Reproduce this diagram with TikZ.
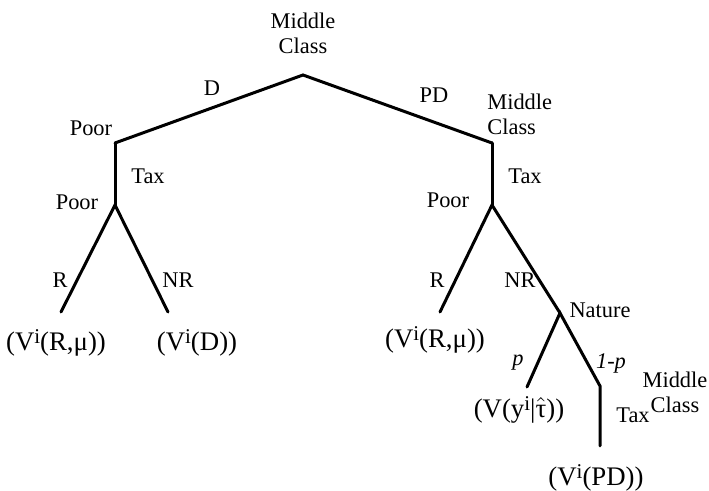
\documentclass[tikz,border=0pt]{standalone}
\usepackage{fontspec}
\setmainfont{Liberation Serif}
\usetikzlibrary{positioning}
\newcommand{\upi}{\raisebox{0.55ex}{\fontsize{10.5}{10.5}\selectfont i}}

\begin{document}
\begin{tikzpicture}[
    x=0.5pt, y=-0.5pt,
    lbl/.style={inner sep=0pt, font=\fontsize{11.2}{12.5}\selectfont, align=center},
    leaf/.style={lbl, font=\fontsize{13.4}{14}\selectfont},
    branch/.style={line width=1.5pt, line cap=round}
]
    \useasboundingbox (0,0) rectangle (709,491);

    % decision points
    \coordinate (mc) at (303,75);
    \coordinate (poorD) at (115,143);
    \coordinate (mcPD) at (492,143);
    \coordinate (poorTaxD) at (115,205);
    \coordinate (poorTaxPD) at (492,205);
    \coordinate (nature) at (560,313);
    \coordinate (mcNature) at (600,386);

    % outcomes
    \node[leaf] (leafRD) at (56,343) {(V\upi(R,μ))};
    \node[leaf] (leafNRD) at (197,343) {(V\upi(D))};
    \node[leaf] (leafRPD) at (435,340) {(V\upi(R,μ))};
    \node[leaf] (leafP) at (519,410) {(V(y\upi|$\hat{\hbox{τ}}$))};
    \node[leaf] (leafPD) at (596,478) {(V\upi(PD))};
    \coordinate (endRD) at (61,312);
    \coordinate (endNRD) at (168,312);
    \coordinate (endRPD) at (440,312);
    \coordinate (endP) at (527,387);
    \coordinate (endPD) at (600,446);

    % branches
    \draw[branch] (poorD) -- (mc) -- (mcPD);
    \draw[branch] (poorD) -- (poorTaxD);
    \draw[branch] (mcPD) -- (poorTaxPD);
    \draw[branch] (endRD) -- (poorTaxD) -- (endNRD);
    \draw[branch] (endRPD) -- (poorTaxPD) -- (nature);
    \draw[branch] (endP) -- (nature) -- (mcNature) -- (endPD);

    % players
    \node[lbl] (mcTop) at (303,33) {Middle\\Class};
    \node[lbl, anchor=west, align=left] (mcRight) at (487,114) {Middle\\Class};
    \node[lbl] (poorTop) at (91,128) {Poor};
    \node[lbl] (poorLow) at (77,202) {Poor};
    \node[lbl] (poorRight) at (448,200) {Poor};
    \node[lbl] (natureLbl) at (600,310) {Nature};
    \node[lbl] (mcLow) at (675,392) {Middle\\Class};

    % actions
    \node[lbl] (actD) at (212,88) {D};
    \node[lbl] (actPD) at (434,95) {PD};
    \node[lbl] (taxD) at (148,176) {Tax};
    \node[lbl] (taxPD) at (525,176) {Tax};
    \node[lbl] (actRD) at (60,280) {R};
    \node[lbl] (actNRD) at (178,280) {NR};
    \node[lbl] (actRPD) at (437,280) {R};
    \node[lbl] (actNRPD) at (520,280) {NR};
    \node[lbl] (probP) at (518,363) {\itshape p};
    \node[lbl] (probQ) at (611,363) {\itshape 1-p};
    \node[lbl] (taxLow) at (633,415) {Tax};
\end{tikzpicture}
\end{document}
